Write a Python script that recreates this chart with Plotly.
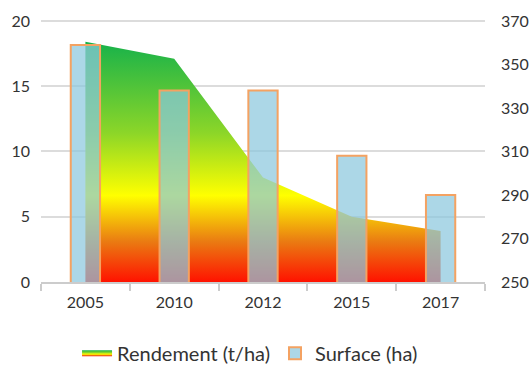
import plotly.graph_objects as go

years = ["2005", "2010", "2012", "2015", "2017"]
rendement = [18.4, 17.1, 8.0, 5.0, 3.9]       # t/ha, left axis
surface = [359, 338, 338, 308, 290]           # ha, right axis

left_ticks = [0, 5, 10, 15, 20]
right_ticks = [250, 270, 290, 310, 330, 350, 370]

font_family = "Lato, 'Open Sans', sans-serif"
text_color = "#333333"
grid_color = "#dcdcdc"

fig = go.Figure()

fig.add_trace(go.Scatter(
    x=years, y=rendement, name="Rendement (t/ha)",
    mode="none", fill="tozeroy",
    fillgradient=dict(
        type="vertical", start=0, stop=18.4,
        colorscale=[
            [0.0, "#ff1200"],
            [0.17, "#ea7c12"],
            [0.36, "#ffff00"],
            [0.62, "#8cd628"],
            [1.0, "#17b24a"],
        ],
    ),
    yaxis="y",
))

fig.add_trace(go.Bar(
    x=years, y=surface, name="Surface (ha)",
    width=0.33,
    marker=dict(color="rgba(140,200,222,0.72)",
                line=dict(color="#f4a262", width=2)),
    yaxis="y2",
))

fig.update_layout(
    width=532, height=370,
    margin=dict(l=41, r=47, t=19, b=88, autoexpand=False),
    paper_bgcolor="white", plot_bgcolor="white",
    font=dict(family=font_family, size=16, color=text_color),
    xaxis=dict(
        type="category", tickson="boundaries",
        showline=True, linecolor="#cccccc", linewidth=1.5,
        ticks="outside", ticklen=7, tickcolor="#cccccc", tickwidth=1.5,
        showgrid=False, range=[-0.5, 4.5],
        tickfont=dict(size=16, color=text_color),
        ticklabelstandoff=5, automargin=False,
    ),
    yaxis=dict(
        range=[0, 20.15], tickvals=left_ticks,
        showgrid=True, gridcolor=grid_color, gridwidth=1.5,
        zeroline=False, showline=False,
        ticks="", tickfont=dict(size=16, color=text_color),
        ticklabelstandoff=10, automargin=False,
    ),
    yaxis2=dict(
        range=[250, 370.9], tickvals=right_ticks,
        overlaying="y", side="right",
        showgrid=False, zeroline=False, showline=False,
        tickfont=dict(size=16, color=text_color),
        ticklabelstandoff=15, automargin=False,
    ),
    showlegend=True,
    legend=dict(
        orientation="h", xref="container", yref="container",
        x=0.47, y=0.045, xanchor="center", yanchor="middle",
        font=dict(size=20, color=text_color),
        itemwidth=30, traceorder="normal",
    ),
    bargap=0.5,
)

fig.write_html("out.html")
